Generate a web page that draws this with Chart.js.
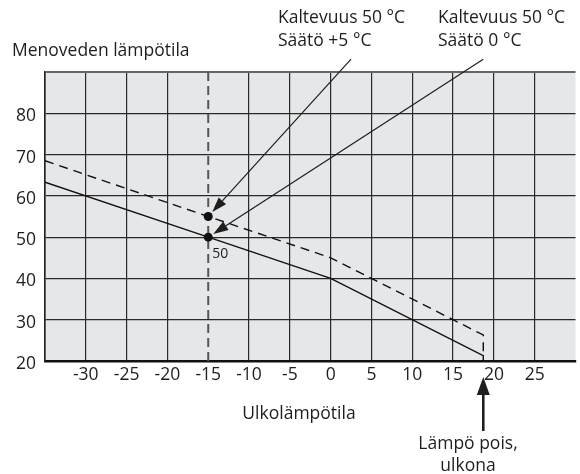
<!DOCTYPE html>
<html>
<head>
<meta charset="utf-8">
<script src="https://cdn.jsdelivr.net/npm/chart.js@4"></script>
<style>
  html, body { margin: 0; padding: 0; background: #fff; }
  #wrap { width: 580px; height: 474px; }
</style>
</head>
<body>
<div id="wrap"><canvas id="curveChart" width="580" height="474"></canvas></div>
<script>
/* ================================================
   DATA
================================================ */
const outdoorTemps   = [-35, -15, 0, 18.7, 18.7];   // Ulkolämpötila
const flowSlope50    = [63.3, 50, 40, 21.3, 20];    // Kaltevuus 50, säätö 0
const flowSlope50p5  = [68.5, 55, 45, 26.3, 21.3];  // Kaltevuus 50, säätö +5
const markerX        = [-15, -15];
const markerY        = [55, 50];
const designTemp     = -15;
const heatOffTemp    = 18.7;
const yTicks         = [20, 30, 40, 50, 60, 70, 80];
const xTicks         = [-30, -25, -20, -15, -10, -5, 0, 5, 10, 15, 20, 25];

const FONT = "'Open Sans', 'Noto Sans', sans-serif";
const INK  = '#1e1e1e';

const toXY = (xs, ys) => xs.map((x, i) => ({ x, y: ys[i] }));

/* ================================================
   PLUGINS
================================================ */
const plotBg = {
  id: 'plotBg',
  beforeDraw(chart) {
    const { ctx, chartArea: a } = chart;
    ctx.save();
    ctx.fillStyle = '#e6e7e9';
    ctx.fillRect(a.left, a.top, a.right - a.left, a.bottom - a.top);
    ctx.restore();
  },
};

function arrow(ctx, x1, y1, x2, y2, headLen, headW, cut) {
  const ang = Math.atan2(y2 - y1, x2 - x1);
  const tx = x2 - Math.cos(ang) * cut;
  const ty = y2 - Math.sin(ang) * cut;
  const bx = tx - Math.cos(ang) * headLen;
  const by = ty - Math.sin(ang) * headLen;
  ctx.beginPath();
  ctx.moveTo(x1, y1);
  ctx.lineTo(bx, by);
  ctx.stroke();
  ctx.beginPath();
  ctx.moveTo(tx, ty);
  ctx.lineTo(bx + Math.sin(ang) * headW / 2, by - Math.cos(ang) * headW / 2);
  ctx.lineTo(bx - Math.sin(ang) * headW / 2, by + Math.cos(ang) * headW / 2);
  ctx.closePath();
  ctx.fill();
}

const annotations = {
  id: 'annotations',
  afterDraw(chart) {
    const { ctx } = chart;
    const xs = chart.scales.x, ys = chart.scales.y;
    ctx.save();
    ctx.fillStyle = INK;
    ctx.strokeStyle = INK;

    // Texts
    ctx.font = `17.5px ${FONT}`;
    ctx.textBaseline = 'alphabetic';
    ctx.textAlign = 'left';
    ctx.fillText('Menoveden lämpötila', 12, 56);
    ctx.fillText('Kaltevuus 50 °C', 278, 23);
    ctx.fillText('Säätö +5 °C', 278, 46);
    ctx.fillText('Kaltevuus 50 °C', 438, 23);
    ctx.fillText('Säätö 0 °C', 438, 46);
    ctx.textAlign = 'center';
    ctx.fillText('Ulkolämpötila', 299, 419);
    ctx.fillText('Lämpö pois,', 468, 449);
    ctx.fillText('ulkona', 468, 471);

    ctx.textAlign = 'left';
    ctx.font = `14px ${FONT}`;
    ctx.fillText(String(markerY[1]), xs.getPixelForValue(markerX[1]) + 4, 258);

    // Callout arrows
    ctx.lineWidth = 1.2;
    const starts = [[2.5, 93.1], [18.7, 93.1]];
    starts.forEach(([sx, sy], i) => {
      arrow(ctx,
        xs.getPixelForValue(sx), ys.getPixelForValue(sy),
        xs.getPixelForValue(markerX[i]), ys.getPixelForValue(markerY[i]),
        15, 10, 6);
    });

    // Heat-off arrow
    ctx.lineWidth = 2.6;
    const hx = xs.getPixelForValue(heatOffTemp);
    arrow(ctx, hx, 431, hx, 377, 18, 13, 0);
    ctx.restore();
  },
};

/* ================================================
   CHART
================================================ */
new Chart(document.getElementById('curveChart'), {
  type: 'scatter',
  data: {
    datasets: [
      {
        label: 'markers',
        data: toXY(markerX, markerY),
        pointRadius: 4.5,
        pointBackgroundColor: '#111',
        pointBorderWidth: 0,
        showLine: false,
      },
      {
        label: 'Säätö 0',
        data: toXY(outdoorTemps, flowSlope50),
        showLine: true,
        borderColor: '#111',
        borderWidth: 1.4,
        pointRadius: 0,
        tension: 0,
      },
      {
        label: 'Säätö +5',
        data: toXY(outdoorTemps, flowSlope50p5),
        showLine: true,
        borderColor: '#111',
        borderWidth: 1.4,
        borderDash: [9, 6],
        pointRadius: 0,
        tension: 0,
      },
      {
        label: 'design',
        data: [{ x: designTemp, y: 20 }, { x: designTemp, y: 90 }],
        showLine: true,
        borderColor: '#555',
        borderWidth: 2,
        borderDash: [9, 5],
        pointRadius: 0,
      },
    ],
  },
  options: {
    responsive: false,
    animation: false,
    layout: { padding: { top: 72, right: 0, left: 0, bottom: 0 } },
    plugins: { legend: { display: false }, tooltip: { enabled: false } },
    scales: {
      x: {
        type: 'linear',
        min: -35,
        max: 30,
        afterFit(scale) { scale.height = 113; },
        afterBuildTicks(scale) {
          scale.ticks = [-35, ...xTicks, 30].map(v => ({ value: v }));
        },
        ticks: {
          color: INK,
          font: { family: FONT, size: 17.5 },
          padding: 4,
          maxRotation: 0,
          autoSkip: false,
          callback: v => (xTicks.includes(v) ? String(v) : ''),
        },
        grid: {
          drawTicks: false,
          color: c => {
            const v = c.tick && c.tick.value;
            return v === 30 || v === designTemp ? 'rgba(0,0,0,0)' : '#2a2a2a';
          },
          lineWidth: 1.2,
        },
        border: { display: true, color: '#111', width: 2.6 },
      },
      y: {
        type: 'linear',
        min: 20,
        max: 90,
        afterFit(scale) { scale.width = 45; },
        afterBuildTicks(scale) {
          scale.ticks = [...yTicks, 90].map(v => ({ value: v }));
        },
        ticks: {
          color: INK,
          font: { family: FONT, size: 17.5 },
          padding: 9,
          labelOffset: 3,
          autoSkip: false,
          callback: v => (yTicks.includes(v) ? String(v) : ''),
        },
        grid: {
          drawTicks: false,
          color: c => (c.tick && c.tick.value === 90 ? '#666' : '#2a2a2a'),
          lineWidth: c => (c.tick && c.tick.value === 90 ? 2 : 1.2),
        },
        border: { display: true, color: '#222', width: 1.6 },
      },
    },
  },
  plugins: [plotBg, annotations],
});
</script>
</body>
</html>
